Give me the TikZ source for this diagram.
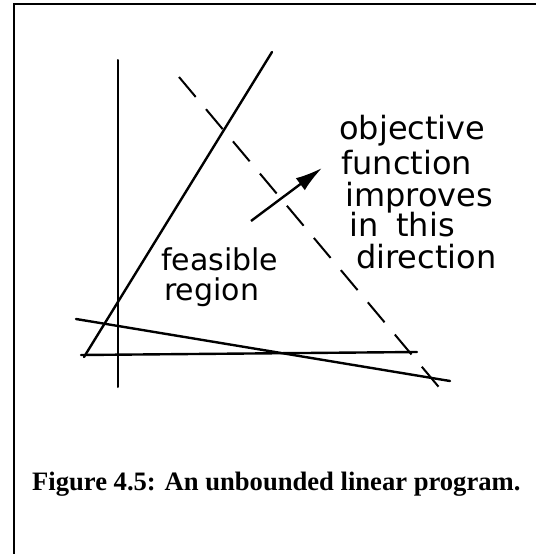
\documentclass[tikz,border=0pt]{standalone}
\usepackage{fontspec}
\setmainfont{Liberation Serif}
\newfontfamily\handfont{DejaVu Sans}
\usetikzlibrary{arrows.meta,positioning}
\tikzset{
  cornice/.style={line width=2pt},
  asse/.style={line width=2pt,line cap=round},
  vincolo/.style={line width=2.4pt,line cap=round},
  obiettivo/.style={line width=2pt,dash pattern=on 26pt off 16pt},
  direzione/.style={-{Latex[length=27pt,width=15pt]},line width=2.4pt},
  manolab/.style={font=\handfont\fontsize{32}{34}\selectfont,inner sep=0pt,anchor=base west},
  didlab/.style={font=\bfseries\fontsize{26.6}{30}\selectfont,inner sep=0pt,anchor=base west}
}

\begin{document}
\begin{tikzpicture}[x=1pt,y=-1pt]
  \useasboundingbox (0,0) rectangle (536,554);
  % cornice
  \draw[cornice] (14,554) -- (14,4) -- (536,4);
  % assi e vincoli
  \coordinate (ay1) at (118,60);   \coordinate (ay2) at (118,387);
  \coordinate (v1a) at (84,357);   \coordinate (v1b) at (272,52);
  \coordinate (v2a) at (81,355);   \coordinate (v2b) at (417,352);
  \coordinate (v3a) at (76,319);   \coordinate (v3b) at (450,381);
  \coordinate (oba) at (179,77);   \coordinate (obb) at (448,398);
  \draw[asse] (ay1) -- (ay2);
  \draw[vincolo] (v1a) -- (v1b);
  \draw[vincolo] (v2a) -- (v2b);
  \draw[vincolo] (v3a) -- (v3b);
  \draw[obiettivo] (oba) -- (obb);
  % direzione di miglioramento
  \coordinate (dira) at (251,221); \coordinate (dirb) at (322,168);
  \draw[direzione] (dira) -- (dirb);
  % scritte a mano
  \node[manolab] (t1) at (339,139) {objective};
  \node[manolab] (t2) at (341,174) {function};
  \node[manolab] (t3) at (345,206) {improves};
  \node[manolab] (t4) at (349,236) {in\hspace{18pt}this};
  \node[manolab] (t5) at (356,268) {direction};
  \node[manolab,font=\handfont\fontsize{30}{34}\selectfont] (f1) at (161,270) {feasible};
  \node[manolab,font=\handfont\fontsize{30}{34}\selectfont] (f2) at (164,300) {region};
  \node[didlab] (cap) at (32,490) {Figure 4.5: An unbounded linear program.};
\end{tikzpicture}
\end{document}
